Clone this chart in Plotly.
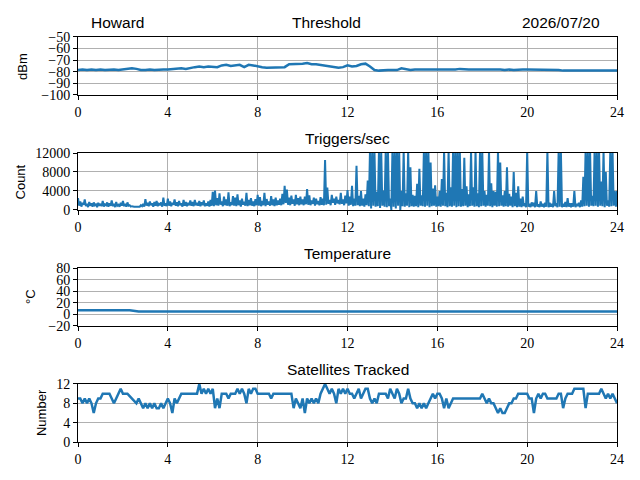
import numpy as np
import plotly.graph_objects as go

# sample times (hours)
hours_trig = np.round(np.arange(0, 24.001, 0.05), 2)
hours_sat = np.round(np.arange(0, 24.01, 0.1), 1)
hours_thr = np.round(np.arange(0, 24.01, 0.2), 1)
hours_temp = [0, 2.3, 2.7, 24]

threshold = [
    -78.5, -78, -78.5, -78, -78.5, -78, -78.5, -78, -78, -78.5,
    -78, -77.5, -77, -77.5, -78.5, -78.5, -78, -78.5, -78, -78,
    -78, -77.5, -77, -77, -77.5, -76.5, -76, -75.5, -76, -75.5,
    -75.5, -76, -74.5, -74, -75, -74.5, -74, -76, -74, -74.5,
    -75.5, -76, -76.5, -76.5, -76.5, -76, -76, -73.5, -73.5, -73,
    -73, -72.5, -73.5, -73.5, -74, -74.5, -75, -75.5, -76.5, -76,
    -74.5, -75.5, -75, -73.5, -73, -75.5, -78.5, -79, -78.5, -78.5,
    -78.5, -78.5, -77, -78, -78.5, -78, -78, -78, -78.5, -78,
    -78, -78, -78.5, -78, -78, -77.5, -78, -78, -78, -78,
    -78, -78, -77.5, -78, -78, -78.5, -78, -78.5, -78, -78,
    -78, -78, -78, -78, -78, -78.5, -78, -78.5, -79, -79,
    -79, -78.5, -79, -79, -79, -79, -79, -78.5, -79, -79,
    -79,
]

# one row per hour, 20 samples each
triggers = [
    2500, 900, 1800, 700, 1500, 1100, 2200, 800, 1300, 600, 1700, 900, 1400, 700, 1600, 1000, 1200, 600, 1500, 900,
    1300, 800, 1900, 700, 1200, 1000, 1600, 700, 1400, 900, 2000, 800, 1300, 600, 1700, 900, 1100, 700, 1500, 900,
    1900, 800, 1300, 700, 1600, 900, 1000, 700, 800, 700, 700, 700, 700, 700, 800, 700, 1000, 800, 1300, 700,
    2300, 900, 1500, 800, 1800, 1000, 1400, 700, 1700, 900, 1900, 800, 1300, 1000, 1600, 700, 2600, 900, 1400, 800,
    2400, 900, 1800, 800, 1500, 1100, 2200, 900, 1600, 800, 1900, 1000, 1400, 700, 2100, 900, 1700, 800, 1500, 1000,
    2000, 900, 1700, 800, 2100, 1000, 1500, 900, 1900, 800, 1600, 1000, 2000, 800, 1400, 900, 1800, 700, 2100, 900,
    3800, 800, 4100, 1000, 2500, 900, 3500, 1100, 1800, 800, 2800, 1000, 2200, 900, 3700, 800, 1600, 1000, 2900, 900,
    2600, 800, 3300, 1000, 2000, 700, 2400, 1100, 1700, 900, 3600, 800, 2100, 1000, 2500, 900, 1800, 800, 2300, 1000,
    3200, 900, 2700, 800, 1900, 1000, 3600, 800, 2300, 1100, 1800, 900, 2900, 1000, 2200, 800, 2600, 1000, 2000, 1100,
    2400, 1000, 3400, 1200, 5100, 1500, 4300, 1100, 2600, 1000, 3000, 1300, 2200, 900, 3200, 1200, 2500, 1000, 2800, 1200,
    2200, 1000, 2800, 1200, 4400, 1100, 3100, 1000, 2000, 1300, 2600, 900, 2400, 1200, 1900, 1000, 2700, 1100, 2400, 1000,
    10500, 1100, 4700, 1300, 2100, 1000, 3200, 1500, 2400, 1100, 2800, 1400, 2100, 1200, 3600, 1300, 2200, 1000, 3000, 1400,
    4200, 900, 2800, 1100, 5100, 800, 2400, 900, 9300, 1000, 3000, 800, 4000, 900, 2400, 700, 3300, 1000, 6200, 800,
    12500, 300, 12500, 900, 12500, 700, 3800, 800, 12500, 400, 12500, 900, 4100, 700, 12500, 600, 12500, 800, 2400, 0,
    12500, 700, 12500, 300, 12500, 900, 12500, 0, 4000, 800, 12500, 700, 3500, 900, 12500, 600, 9000, 800, 3200, 700,
    3000, 800, 5500, 600, 8700, 900, 3100, 800, 12500, 700, 12500, 900, 12500, 600, 10000, 800, 4500, 900, 5200, 700,
    2800, 800, 4000, 700, 6500, 900, 12500, 800, 3600, 600, 12500, 800, 4800, 700, 12500, 900, 12500, 600, 12500, 800,
    12500, 700, 4400, 800, 11000, 900, 5000, 600, 3300, 800, 12500, 900, 4800, 700, 12500, 800, 3500, 600, 12500, 800,
    12500, 900, 4000, 700, 3200, 900, 12500, 800, 5600, 600, 4000, 900, 3800, 700, 12500, 800, 10000, 900, 3100, 700,
    4000, 800, 9000, 700, 3400, 900, 2800, 600, 8000, 800, 3600, 600, 5000, 700, 2400, 600, 2800, 800, 1400, 600,
    12500, 700, 1300, 600, 1600, 800, 1500, 600, 4000, 700, 1200, 600, 1800, 700, 1300, 600, 1500, 700, 12500, 600,
    1500, 700, 1300, 600, 4000, 800, 1400, 600, 12500, 700, 12500, 600, 1300, 700, 1700, 600, 2500, 700, 1400, 600,
    1400, 700, 4000, 600, 1300, 800, 1500, 600, 2000, 700, 7000, 800, 12500, 900, 12500, 700, 12500, 900, 3000, 800,
    12500, 900, 12500, 700, 12500, 900, 6000, 800, 12500, 600, 8000, 900, 2000, 700, 12500, 800, 12500, 900, 4000, 700,
    4000,
]

temperature = [7, 7, 5, 5]

satellites = [
    9, 9, 8, 9, 8, 9, 8, 6, 8, 9,
    9, 10, 10, 10, 10, 9, 8, 9, 10, 11,
    10, 10, 10, 9.5, 9, 8.5, 8, 9, 8, 7,
    8, 7, 8, 7, 8, 7, 7, 8, 7, 8,
    9, 8, 6, 9, 8, 9, 10, 10, 10, 10,
    10, 10, 10, 10, 12, 10, 11, 10, 11, 10,
    11, 7, 9, 7, 10, 10, 10, 9, 10, 10,
    10, 11, 10, 11, 10, 8, 11, 10, 11, 11,
    10, 10, 10, 10, 10, 10, 9, 10, 10, 10,
    10, 10, 10, 10, 10, 10, 7, 9, 8, 7,
    9, 6, 9, 8, 9, 8, 9, 8, 10, 11,
    12, 11, 10, 11, 10, 8, 11, 10, 11, 10,
    11, 10, 10, 9, 10, 11, 9, 10, 11, 11,
    9, 8, 9, 8, 10, 10, 10, 10, 9, 11,
    10, 9, 11, 10, 8, 9, 9, 11, 9, 8,
    8, 7, 8, 7, 8, 7, 8, 9, 10, 9,
    10, 10, 9, 7, 9, 7, 8, 9, 9, 9,
    9, 9, 9, 9, 9, 9, 9, 9, 9, 9,
    10, 9, 8, 9, 8, 8, 7, 6, 7, 6,
    6, 7, 8, 8, 9, 9, 10, 10, 10, 10,
    10, 9, 9, 6, 9, 10, 9, 10, 10, 9,
    9, 9, 9, 9, 10, 10, 7, 9, 10, 10,
    10, 11, 11, 11, 11, 11, 7, 10, 10, 10,
    10, 10, 10, 11, 10, 9, 10, 9, 10, 9,
    8,
]

x_ticks = [0, 4, 8, 12, 16, 20, 24]
panels = [
    # (x, y, title, y-label, y range, y ticks, domain, title x, label x, line width)
    (hours_thr, threshold, "Threshold", "dBm", [-100, -50], [-100, -90, -80, -70, -60, -50],
     [0.8188, 0.9396], 0.4984, 0.0234, 2.5),
    (hours_trig, triggers, "Triggers/sec", "Count", [0, 12000], [0, 4000, 8000, 12000],
     [0.5792, 0.6979], 0.5305, 0.0203, 2),
    (hours_temp, temperature, "Temperature", "°C", [-20, 80], [-20, 0, 20, 40, 60, 80],
     [0.3375, 0.4583], 0.5305, 0.0344, 2.5),
    (hours_sat, satellites, "Satellites Tracked", "Number", [0, 12], [0, 4, 8, 12],
     [0.0958, 0.2167], 0.5305, 0.0516, 2.5),
]

BLUE = "#1f77b4"
SERIF = "Liberation Serif"
SANS = "Liberation Sans"
X_DOMAIN = [0.1094, 0.9516]

fig = go.Figure()
layout = {}
annotations = []
for i, (xs, ys, title, ylab, yr, yt, dom, tx, lx, lw) in enumerate(panels, start=1):
    sfx = "" if i == 1 else str(i)
    fig.add_trace(go.Scatter(
        x=xs, y=ys, mode="lines",
        line=dict(color=BLUE, width=lw),
        xaxis="x" + sfx, yaxis="y" + sfx,
        showlegend=False,
    ))
    common = dict(
        showline=True, linecolor="black", linewidth=1, mirror=True,
        ticks="outside", ticklen=4, tickcolor="black",
        showgrid=True, gridcolor="#b0b0b0", gridwidth=1,
        zeroline=False, automargin=False,
        tickfont=dict(family=SERIF, size=14, color="black"),
    )
    layout["xaxis" + sfx] = dict(
        common, domain=X_DOMAIN, range=[0, 24],
        tickvals=x_ticks, anchor="y" + sfx,
    )
    layout["yaxis" + sfx] = dict(
        common, domain=dom, range=yr, tickvals=yt,
        ticktext=[str(v).replace("-", "\u2212") for v in yt],
        anchor="x" + sfx,
    )
    annotations.append(dict(
        text=title, xref="paper", yref="paper", x=tx, y=dom[1] + 0.008,
        xanchor="center", yanchor="bottom", showarrow=False,
        font=dict(family=SANS, size=15.5, color="black"),
    ))
    annotations.append(dict(
        text=ylab, xref="paper", yref="paper", x=lx, y=(dom[0] + dom[1]) / 2,
        xanchor="center", yanchor="middle", textangle=-90, showarrow=False,
        font=dict(family=SANS, size=13, color="black"),
    ))

annotations.append(dict(
    text="Howard", xref="paper", yref="paper", x=0.1273, y=0.9396 + 0.008,
    xanchor="left", yanchor="bottom", showarrow=False,
    font=dict(family=SANS, size=15.5, color="black"),
))
annotations.append(dict(
    text="2026/07/20", xref="paper", yref="paper", x=0.9281, y=0.9396 + 0.008,
    xanchor="right", yanchor="bottom", showarrow=False,
    font=dict(family=SANS, size=15.5, color="black"),
))

fig.update_layout(
    width=640, height=480,
    margin=dict(l=0, r=0, t=0, b=0),
    paper_bgcolor="white", plot_bgcolor="white",
    annotations=annotations,
    **layout,
)

fig.write_html("out.html")
